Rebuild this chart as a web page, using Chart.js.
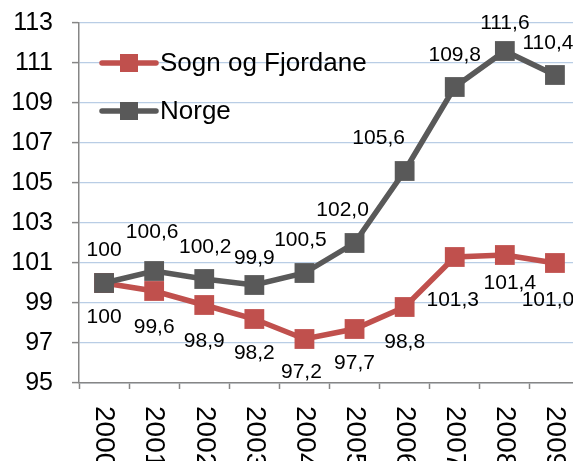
<!DOCTYPE html>
<html>
<head>
<meta charset="utf-8">
<script src="https://cdn.jsdelivr.net/npm/chart.js@4/dist/chart.umd.min.js"></script>
<style>
  html, body { margin: 0; padding: 0; background: #fff; overflow: hidden; }
  #wrap { position: absolute; left: 0; top: 0; width: 600px; height: 480px; }
</style>
</head>
<body>
<div id="wrap"><canvas id="chart" width="600" height="480"></canvas></div>
<script>
// Indeks, 2000 = 100
const years = ['2000', '2001', '2002', '2003', '2004', '2005', '2006', '2007', '2008', '2009'];
const sognValues = [100, 99.6, 98.9, 98.2, 97.2, 97.7, 98.8, 101.3, 101.4, 101.0];
const norgeValues = [100, 100.6, 100.2, 99.9, 100.5, 102.0, 105.6, 109.8, 111.6, 110.4];
const yTicksMin = 95;
const yTicksMax = 113;
const yTicksStep = 2;

// flytting av dataetikettar (px), slik dei står i originalen
const sognLabelShift = [[0, 34], [0, 36], [0, 36], [0, 34], [-3, 33], [0, 34], [0, 35], [-2, 43], [5, 28], [-7, 37]];
const norgeLabelShift = [[0, -33], [-2, -39], [1, -32], [0, -27], [-4, -33], [-12, -33], [-26, -33], [0, -32], [0, -28], [-7, -32]];

const red = '#c0504d';
const grey = '#595959';
const axisGrey = '#868686';
const FONT = '"Liberation Sans", Arial, sans-serif';

function fmt(v, i) {
  if (i === 0) return String(Math.round(v));
  return v.toFixed(1).replace('.', ',');
}

const labelsPlugin = {
  id: 'extras',
  afterDatasetsDraw(chart) {
    const ctx = chart.ctx;
    const shifts = [sognLabelShift, norgeLabelShift];
    ctx.save();
    ctx.fillStyle = '#000';
    ctx.font = '21px ' + FONT;
    ctx.textAlign = 'center';
    ctx.textBaseline = 'middle';
    chart.data.datasets.forEach((ds, d) => {
      const meta = chart.getDatasetMeta(d);
      meta.data.forEach((pt, i) => {
        const s = shifts[d][i];
        ctx.fillText(fmt(ds.data[i], i), pt.x + s[0], pt.y + s[1]);
      });
    });

    // årstal, rotert med klokka
    const xs = chart.scales.x;
    ctx.font = '28px ' + FONT;
    ctx.textAlign = 'left';
    years.forEach((y, i) => {
      ctx.save();
      ctx.translate(xs.getPixelForValue(i), chart.chartArea.bottom + 23);
      ctx.rotate(Math.PI / 2);
      ctx.fillText(y, 0, 0);
      ctx.restore();
    });

    // forklaring inne i plottet
    const items = [['Sogn og Fjordane', red, 63], ['Norge', grey, 111]];
    ctx.font = '26px ' + FONT;
    ctx.textAlign = 'left';
    items.forEach(([txt, col, y]) => {
      ctx.strokeStyle = col;
      ctx.lineWidth = 5.5;
      ctx.lineCap = 'round';
      ctx.beginPath();
      ctx.moveTo(102, y);
      ctx.lineTo(156, y);
      ctx.stroke();
      ctx.fillStyle = col;
      ctx.fillRect(120, y - 9, 18, 18);
      ctx.fillStyle = '#000';
      ctx.fillText(txt, 160, y + 1);
    });
    ctx.restore();
  }
};

new Chart(document.getElementById('chart'), {
  type: 'line',
  data: {
    labels: years,
    datasets: [
      {
        label: 'Sogn og Fjordane',
        data: sognValues,
        borderColor: red,
        backgroundColor: red,
        pointBackgroundColor: red,
        pointBorderColor: red,
        borderWidth: 5.5,
        pointStyle: 'rect',
        pointRadius: 14,
        pointBorderWidth: 0,
        tension: 0,
        clip: false,
        order: 1
      },
      {
        label: 'Norge',
        data: norgeValues,
        borderColor: grey,
        backgroundColor: grey,
        pointBackgroundColor: grey,
        pointBorderColor: grey,
        borderWidth: 5.5,
        pointStyle: 'rect',
        pointRadius: 14,
        pointBorderWidth: 0,
        tension: 0,
        clip: false,
        order: 0
      }
    ]
  },
  options: {
    responsive: false,
    animation: false,
    layout: { autoPadding: false, padding: { top: 23, right: 20, bottom: 90, left: 0 } },
    plugins: {
      legend: { display: false },
      tooltip: { enabled: false }
    },
    scales: {
      x: {
        offset: true,
        afterFit: (s) => { s.height = 7; },
        grid: {
          offset: true,
          drawOnChartArea: false,
          drawTicks: true,
          tickLength: 6,
          tickColor: axisGrey,
          tickWidth: 1.5
        },
        border: { color: axisGrey, width: 1.5 },
        ticks: { display: false }
      },
      y: {
        min: yTicksMin,
        max: yTicksMax,
        afterFit: (s) => {
          s.width = 79;
          s.paddingTop = 0;
          s.paddingBottom = 0;
        },
        grid: {
          color: '#b9cde5',
          lineWidth: 1.2,
          drawTicks: true,
          tickLength: 7,
          tickColor: axisGrey,
          tickWidth: 1.5
        },
        border: { color: axisGrey, width: 1.5 },
        ticks: {
          stepSize: yTicksStep,
          padding: 19,
          color: '#000',
          font: { family: FONT, size: 25 }
        }
      }
    }
  },
  plugins: [labelsPlugin]
});
</script>
</body>
</html>
